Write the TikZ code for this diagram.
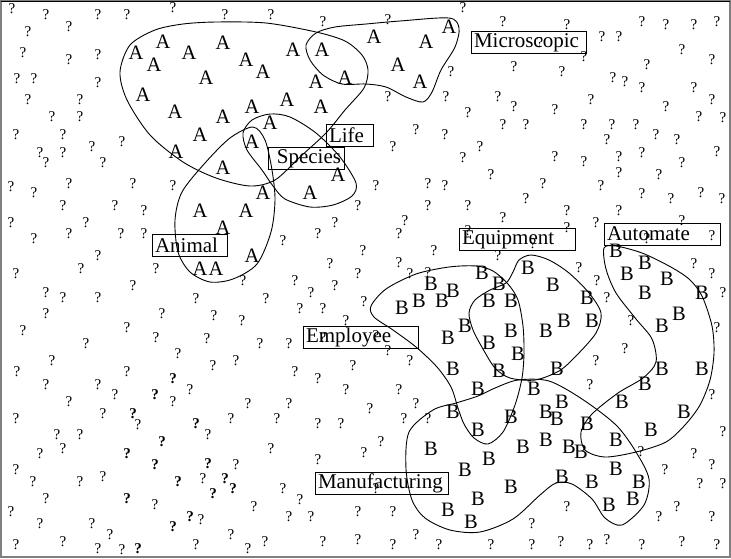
\documentclass[tikz,border=0pt]{standalone}
\usepackage{fontspec}
\setmainfont{Liberation Serif}
\usepackage{tikz}
\usetikzlibrary{positioning}
\newcommand\qsize{\fontsize{15}{17}\selectfont}
\newcommand\lsize{\fontsize{20.5}{23}\selectfont}
\newcommand\tsize{\fontsize{21}{23}\selectfont}

\begin{document}
\begin{tikzpicture}[
  x=1pt, y=-1pt,
  qmark/.style={font=\qsize, inner sep=0pt},
  qbold/.style={font=\qsize\bfseries, inner sep=0pt},
  lettr/.style={font=\lsize, inner sep=0pt},
  tag/.style={draw, line width=0.8pt, font=\tsize, inner xsep=3pt, inner ysep=0pt, minimum height=22pt, align=left},
  blob/.style={line width=0.9pt},
]
\useasboundingbox (0,0) rectangle (731,558);
\draw[gray, line width=1.5pt] (1,1) rectangle (730,557);
\draw[line width=1pt] (1,1) -- (730,1);
% unknown points
\foreach \px/\py [count=\i] in {12/9,46/15,98/15,127/15,173/8,28/32,69/27,23/53,69/60,98/55,17/79,34/79,98/83,28/100,80/100,52/117,80/117,16/135,63/135,40/153,63/153,92/147,122/142,46/163,103/163,
  225/15,271/15,323/22,463/8,388/20,503/22,514/67,451/72,388/97,446/97,498/97,514/107,468/113,503/125,526/125,416/130,445/135,393/147,480/147,463/158,491/175,428/184,445/186,376/186,543/184,540/43,
  567/25,584/57,642/22,666/25,694/25,717/22,602/37,619/37,682/50,712/60,647/65,562/72,613/78,625/82,642/88,694/88,591/100,666/107,712/100,555/110,584/125,612/125,636/125,699/117,723/118,607/140,656/135,677/140,555/157,584/162,619/157,642/153,682/163,717/152,619/173,659/175,601/186,
  11/187,34/193,69/184,133/184,173/186,63/206,115/206,144/211,11/223,86/223,34/239,69/234,121/234,144/234,98/256,16/274,81/269,156/269,133/286,46/293,63/298,98/298,46/314,162/314,23/331,127/328,156/338,86/344,52/361,178/354,17/372,127/372,
  358/206,335/223,318/234,283/241,363/251,330/264,358/274,243/281,295/281,335/286,311/293,196/299,266/299,300/309,323/309,364/302,346/321,214/316,242/321,207/339,260/344,289/344,213/366,236/361,295/372,353/366,323/338,
  428/206,468/206,526/199,503/218,405/221,399/234,468/231,533/244,434/251,498/256,399/263,410/274,428/273,376/336,388/351,410/361,
  642/194,671/199,701/193,722/199,567/211,619/211,567/228,596/223,682/221,647/239,712/236,579/268,597/281,694/264,712/274,607/298,723/293,631/321,717/328,625/349,596/361,
  46/385,98/385,115/395,69/402,173/402,16/419,103/414,138/425,57/435,80/435,63/449,40/454,16/470,33/482,80/482,103/477,46/499,155/505,11/512,40/524,92/524,110/535,16/545,63/542,98/549,122/550,
  318/379,346/390,190/390,248/404,289/404,231/419,277/419,208/435,318/424,341/424,271/449,364/453,236/465,318/460,203/479,283/489,300/500,254/507,201/520,289/517,311/517,358/512,231/535,196/545,265/542,248/549,323/542,358/540,
  399/390,416/404,370/409,404/419,428/419,381/442,376/489,393/512,416/535,393/545,439/545,491/545,532/524,532/545,
  590/385,712/395,723/432,694/454,641/452,712/465,665/470,700/484,723/484,567/507,677/507,659/517,712/517,561/542,590/545,607/540,642/545,682/542,717/545}
  \node[qmark] (q\i) at (\px,\py) {?};
\foreach \px/\py [count=\i] in {173/379,155/395,133/414,162/442,127/454,155/465,178/482,127/499,173/527,138/549,196/424,208/464,225/479,233/489,213/494,190/517}
  \node[qbold] (qb\i) at (\px,\py) {?};
% A points
\foreach \px/\py [count=\i] in {136/53,163/42,154/65,143/95,175/112,176/152,189/53,223/43,246/60,263/72,293/50,322/50,206/78,316/82,345/78,252/107,287/100,321/107,223/117,270/123,200/135,252/142,223/168,338/175,374/37,426/42,449/27,398/65,420/82,263/193,310/193,200/211,246/211,223/228,252/256,200/269,216/269}
  \node[lettr] (a\i) at (\px,\py) {A};
% B points
\foreach \px/\py [count=\i] in {431/284,453/291,419/301,442/301,402/308,482/273,499/284,528/268,489/301,511/301,465/326,448/338,489/343,511/331,518/354,453/369,499/371,546/331,
  616/251,645/263,627/274,667/279,645/293,702/293,679/314,662/326,553/285,587/298,564/321,592/321,557/369,662/369,702/369,
  478/389,534/389,453/412,511/417,546/412,478/430,431/449,523/447,546/440,489/459,465/470,511/487,478/499,448/510,471/522,
  645/384,622/402,562/402,557/419,587/424,684/412,651/430,616/440,569/447,581/452,616/469,639/482,562/477,592/482,633/499,609/505}
  \node[lettr] (b\i) at (\px,\py) {B};
% top regions
\draw[blob] plot[smooth cycle] coordinates {(183,24) (216,22) (266,23) (316,32) (345,41) (362,55) (368,70) (364,88) (345,110) (326,133) (300,157) (275,180) (250,186) (216,178) (183,162) (150,135) (127,100) (120,72) (130,45) (155,30)};
\draw[blob] plot[smooth cycle] coordinates {(306,45) (316,33) (335,27) (366,24) (400,21) (449,18) (459,28) (455,47) (441,70) (432,92) (423,102) (406,97) (386,87) (366,84) (342,84) (323,75) (310,60)};
\draw[blob] plot[smooth cycle] coordinates {(243,133) (252,120) (270,114) (290,117) (316,133) (340,157) (356,183) (352,196) (333,205) (310,207) (285,199) (273,186) (262,170) (247,150)};
\draw[blob] plot[smooth cycle] coordinates {(253,127) (265,140) (272,170) (275,200) (271,232) (257,264) (233,279) (210,282) (190,272) (178,252) (175,220) (182,192) (205,163) (230,138)};
% bottom regions
\draw[blob] plot[smooth cycle] coordinates {(371,306) (386,289) (416,274) (449,267) (476,266) (493,271) (508,284) (518,300) (523,326) (524,353) (522,378) (515,405) (503,432) (488,444) (474,438) (464,424) (458,408) (451,387) (437,367) (416,347) (393,330) (374,317)};
\draw[blob] plot[smooth cycle] coordinates {(469,313) (475,300) (490,290) (506,283) (513,272) (519,260) (531,255) (549,260) (569,273) (589,293) (601,313) (596,333) (576,356) (559,371) (535,380) (510,378) (495,368) (483,349) (473,330)};
\draw[blob] plot[smooth cycle] coordinates {(406,469) (409,432) (433,410) (456,403) (478,396) (495,388) (518,380) (549,381) (582,399) (616,425) (636,452) (649,479) (644,505) (622,525) (605,518) (592,499) (572,484) (556,483) (540,495) (513,519) (480,532) (450,530) (425,518) (412,500)};
\draw[blob] plot[smooth cycle] coordinates {(604,248) (616,246) (642,253) (669,266) (689,279) (702,296) (712,326) (714,353) (710,380) (700,405) (685,425) (666,442) (636,452) (605,457) (585,450) (581,432) (592,414) (618,393) (643,378) (656,362) (652,339) (636,319) (616,293) (606,269)};
% labels
\node[tag, text width=109pt] (microscopic) at (528.5,42.5) {Microscopic};
\node[tag, text width=41pt] (life) at (349.5,135.5) {Life};
\node[tag, text width=70pt, align=right] (species) at (306,158.5) {Species};
\node[tag, text width=69pt] (animal) at (189.5,245.5) {Animal};
\node[tag, text width=110pt] (equipment) at (517,239.5) {Equipment};
\node[tag, text width=110pt] (automate) at (662,234) {Automate};
\node[tag, text width=109pt] (employee) at (360.5,337.5) {Employee};
\node[tag, text width=127pt] (manufacturing) at (381.5,483) {Manufacturing};
\end{tikzpicture}
\end{document}
